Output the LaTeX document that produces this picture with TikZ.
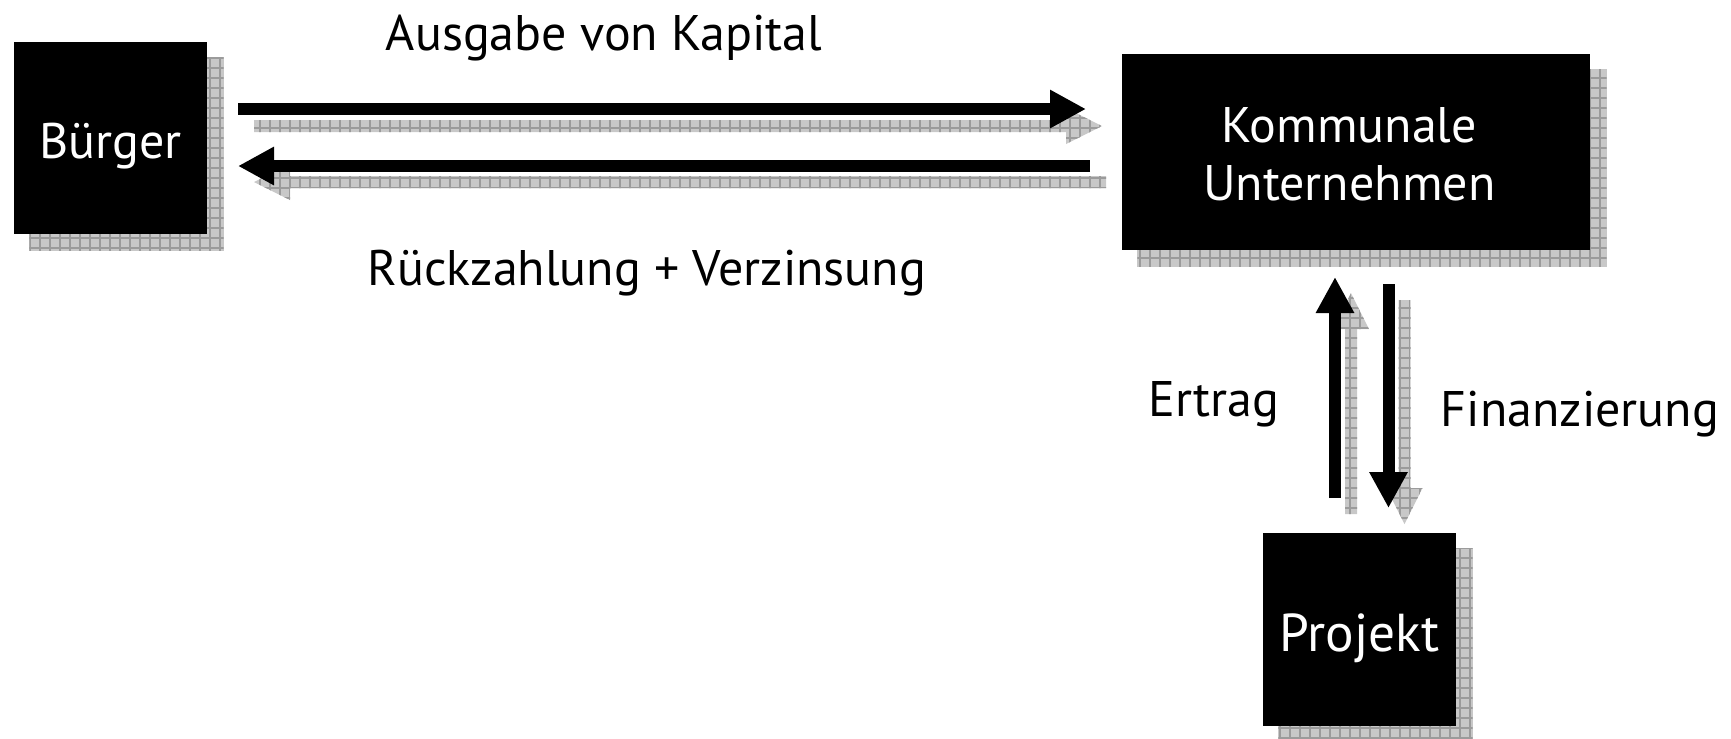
\documentclass[tikz,border=0pt]{standalone}
\usepackage{fontspec}
\setmainfont{PT Sans}
\usetikzlibrary{arrows.meta,patterns,backgrounds}
\definecolor{shadowgray}{RGB}{200,200,200}
\definecolor{gridgray}{RGB}{155,155,155}
\newcommand\boxline[3]{\raisebox{#1}[\height][\depth]{\hspace*{#2}#3}}
\tikzset{
  box/.style={fill=black, text=white, inner sep=0pt, font=\fontsize{15}{17.4}\selectfont, align=center},
  shadowst/.style={fill=shadowgray, postaction={pattern=grid, pattern color=gridgray}},
  flow/.style={line width=3.6pt, -{Triangle[length=10.8pt, width=10.8pt]}},
  lbl/.style={font=\fontsize{15}{18}\selectfont, anchor=base, inner sep=0pt}
}
\begin{document}
\begin{tikzpicture}[x=0.3pt, y=-0.3pt]
\useasboundingbox (0,0) rectangle (1731,738);
% boxes
\node[box, minimum width=57.9pt, minimum height=57.6pt] (buerger) at (110.5,138) {\boxline{-2.3pt}{0pt}{Bürger}};
\node[box, minimum width=140.4pt, minimum height=58.8pt] (kommunal) at (1356,152) {\boxline{-0.7pt}{-4pt}{Kommunale}\\\boxline{-0.7pt}{-4pt}{Unternehmen}};
\node[box, minimum width=57.9pt, minimum height=57.9pt, font=\fontsize{16}{19}\selectfont] (projekt) at (1359.5,629.5) {\boxline{-2.6pt}{0pt}{Projekt}};
% shadows
\begin{scope}[on background layer]
  \foreach \n in {buerger,kommunal,projekt}
    \fill[shadowst] ([shift={(16,16)}]\n.south west) rectangle ([shift={(16,16)}]\n.north east);
  % arrow shadows
  \fill[shadowst] (254,120)--(1066,120)--(1066,108)--(1102,126)--(1066,144)--(1066,132)--(254,132)--cycle;
  \fill[shadowst] (1106,176)--(290,176)--(290,164)--(254,182)--(290,200)--(290,188)--(1106,188)--cycle;
  \fill[shadowst] (1345,514)--(1345,329)--(1333,329)--(1351,293)--(1369,329)--(1357,329)--(1357,514)--cycle;
  \fill[shadowst] (1398.5,300)--(1398.5,488)--(1386.5,488)--(1404.5,524)--(1422.5,488)--(1410.5,488)--(1410.5,300)--cycle;
\end{scope}
% connector end points
\coordinate (a1s) at (238,109);
\coordinate (a1e) at (1086,109);
\coordinate (a2s) at (1090,166);
\coordinate (a2e) at (238,166);
\coordinate (a3s) at (1335,498);
\coordinate (a3e) at (1335,277);
\coordinate (a4s) at (1388.5,284);
\coordinate (a4e) at (1388.5,508);
\draw[flow] (a1s) -- (a1e);
\draw[flow] (a2s) -- (a2e);
\draw[flow] (a3s) -- (a3e);
\draw[flow] (a4s) -- (a4e);
% labels
\node[lbl] (l1) at (604,50) {Ausgabe von Kapital};
\node[lbl] (l2) at (647,285) {Rückzahlung + Verzinsung};
\node[lbl] (l3) at (1214,416) {Ertrag};
\node[lbl] (l4) at (1580,426) {Finanzierung};
\end{tikzpicture}
\end{document}
